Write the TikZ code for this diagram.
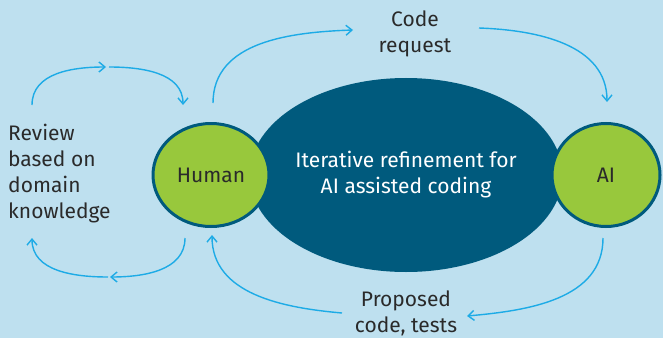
\documentclass[tikz,border=0pt]{standalone}
\usepackage{fontspec}
\setmainfont{Fira Sans}
\usetikzlibrary{shapes.geometric, arrows.meta}
\definecolor{bgblue}{HTML}{BEE0EF}
\definecolor{deepblue}{HTML}{005A7D}
\definecolor{leafgreen}{HTML}{98C83C}
\definecolor{skyline}{HTML}{1DABE6}
\definecolor{inkgrey}{HTML}{2A2A2A}
\tikzstyle{agent} = [ellipse, draw=deepblue, line width=3pt, fill=leafgreen,
                 inner sep=0pt, text=inkgrey, minimum height=103pt]
\tikzstyle{loop} = [draw=skyline, line width=1.4pt,
                 -{Straight Barb[length=6pt,width=10pt]}]
\tikzset{
	caption/.style={text=inkgrey, align=center, inner sep=0pt,
		font=\fontsize{21}{26}\selectfont},
	core/.style={ellipse, fill=deepblue, text=white, inner sep=0pt,
		minimum width=296pt, minimum height=194pt, align=center,
		font=\fontsize{21}{26}\selectfont},
}

\begin{document}
\begin{tikzpicture}[x=1pt, y=1pt]

\path [fill=bgblue] (0,0) rectangle (663,338);

\node [core] at (406,163) (cycle) {Iterative refinement for\\AI assisted coding};
\node [agent, minimum width=116pt, font=\fontsize{21}{26}\selectfont] at (211,163) (human) {Human};
\node [agent, minimum width=108pt, font=\fontsize{21}{26}\selectfont] at (606,163) (ai) {AI};

\node [caption] at (415,304.5) (request) {Code\\request};
\node [caption] at (406,24.5) (proposal) {Proposed\\code, tests};
\node [caption, align=left, anchor=west] at (8,164.5) (review) {Review\\based on\\domain\\knowledge};

	%loop ends
\coordinate (hn) at (213,235);
\coordinate (hs) at (212,103);
\coordinate (an) at (607,236);
\coordinate (as) at (603,100);
\coordinate (rq in) at (353,308);
\coordinate (rq out) at (479,310);
\coordinate (pr in) at (467,22);
\coordinate (pr out) at (342,25);
\coordinate (up l) at (32,233);
\coordinate (up m1) at (106,271);
\coordinate (up m2) at (109,271);
\coordinate (up r) at (183,233);
\coordinate (lo r) at (185,100);
\coordinate (lo m1) at (110,61);
\coordinate (lo m2) at (108,61);
\coordinate (lo l) at (32,100);

\path [loop] (hn) to[out=90, in=182] (rq in);
\path [loop] (rq out) to[out=-2, in=90] (an);
\path [loop] (as) to[out=-90, in=5] (pr in);
\path [loop] (pr out) to[out=175, in=-90] (hs);

\path [loop] (up l) to[out=90, in=180] (up m1);
\path [loop] (up m2) to[out=0, in=90] (up r);
\path [loop] (lo r) to[out=-90, in=0] (lo m1);
\path [loop] (lo m2) to[out=180, in=-90] (lo l);

\end{tikzpicture}
\end{document}
